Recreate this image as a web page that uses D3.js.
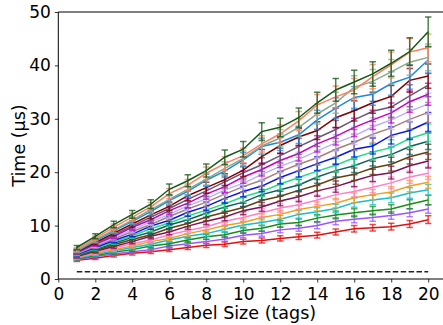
<!DOCTYPE html>
<html>
<head>
<meta charset="utf-8">
<script src="https://cdn.jsdelivr.net/npm/d3@7"></script>
<style>
  html, body { margin: 0; padding: 0; background: #fff; }
  svg { display: block; font-family: "DejaVu Sans", sans-serif; }
</style>
</head>
<body>
<div id="chart"></div>
<script>
// label sizes (x)
const labelSizes = [1, 2, 3, 4, 5, 6, 7, 8, 9, 10, 11, 12, 13, 14, 15, 16, 17, 18, 19, 20];
const xTicks = [0, 2, 4, 6, 8, 10, 12, 14, 16, 18, 20];
const yTicks = [0, 10, 20, 30, 40, 50];

// series colours, bottom to top
const colors = [
  '#e41010', '#9955ff', '#159015', '#17becf', '#f0a020',
  '#ff80c8', '#80105a', '#654010', '#0f6060', '#22dd88',
  '#0a14f0', '#a88078', '#b8b0ff', '#c800c8', '#6a5878',
  '#800000', '#1e88e5', '#88aa88', '#ff8060', '#145a14'
];

// time in microseconds, one array per series
const s01 = [3.5, 3.9, 4.4, 4.8, 5.1, 5.5, 5.9, 6.3, 6.5, 7.0, 7.2, 7.6, 7.9, 8.2, 8.8, 9.4, 9.6, 9.8, 10.3, 11.1];
const s02 = [3.6, 4.2, 4.7, 5.1, 5.5, 6.2, 6.6, 7.0, 7.5, 8.2, 8.5, 9.2, 9.5, 10.0, 10.8, 11.2, 11.5, 11.9, 12.4, 13.1];
const s03 = [3.8, 4.4, 5.0, 5.5, 6.2, 6.6, 7.3, 7.9, 8.3, 9.1, 9.5, 10.3, 10.6, 11.4, 12.0, 12.4, 12.8, 13.1, 14.0, 14.8];
const s04 = [3.9, 4.6, 5.3, 5.9, 6.5, 7.3, 8.0, 8.5, 9.3, 10.1, 10.6, 11.2, 12.1, 12.6, 13.2, 14.3, 14.8, 15.2, 16.1, 16.7];
const s05 = [4.0, 4.8, 5.5, 6.2, 7.0, 7.6, 8.5, 9.2, 10.0, 10.6, 11.5, 12.1, 13.0, 13.6, 14.2, 15.2, 15.8, 16.3, 17.4, 18.1];
const s06 = [4.1, 4.9, 5.8, 6.6, 7.3, 8.3, 9.1, 9.8, 10.8, 11.5, 12.4, 13.3, 13.9, 14.8, 15.8, 16.4, 17.2, 18.0, 19.1, 19.8];
const s07 = [4.2, 5.2, 6.1, 7.0, 8.0, 8.8, 9.9, 10.8, 11.6, 12.8, 13.5, 14.6, 15.4, 16.5, 17.3, 18.4, 19.4, 19.9, 21.2, 22.1];
const s08 = [4.3, 5.3, 6.4, 7.4, 8.3, 9.5, 10.4, 11.6, 12.5, 13.4, 14.7, 15.5, 16.6, 17.6, 18.9, 19.6, 20.8, 21.5, 22.9, 23.8];
const s09 = [4.4, 5.5, 6.7, 7.8, 8.8, 10.1, 11.1, 12.3, 13.5, 14.4, 15.8, 16.7, 17.6, 19.1, 20.3, 21.2, 22.5, 23.3, 24.8, 25.8];
const s10 = [4.5, 5.7, 6.9, 8.1, 9.4, 10.5, 11.8, 12.9, 14.1, 15.4, 16.4, 17.8, 19.0, 20.2, 21.3, 22.7, 23.8, 24.6, 26.3, 27.4];
const s11 = [4.6, 5.9, 7.2, 8.4, 9.9, 11.0, 12.5, 13.6, 15.1, 16.4, 17.4, 19.0, 20.3, 21.6, 22.8, 24.3, 24.9, 26.9, 27.8, 29.4];
const s12 = [4.7, 6.1, 7.5, 8.9, 10.2, 11.7, 13.1, 14.4, 15.9, 17.3, 18.5, 20.1, 21.5, 22.7, 24.3, 25.6, 27.1, 28.3, 29.9, 31.2];
const s13 = [4.8, 6.3, 7.8, 9.2, 10.7, 12.1, 13.7, 15.0, 16.7, 17.9, 19.6, 21.1, 22.4, 24.0, 25.5, 26.8, 28.5, 29.8, 31.4, 32.8];
const s14 = [4.9, 6.5, 8.0, 9.7, 11.1, 12.8, 14.2, 15.9, 17.3, 19.1, 20.5, 22.2, 23.5, 25.3, 26.7, 28.4, 29.8, 31.1, 33.2, 34.6];
const s15 = [5.0, 6.7, 8.3, 9.9, 11.6, 13.2, 14.9, 16.5, 18.2, 19.9, 21.4, 23.1, 24.8, 26.4, 28.0, 29.8, 31.4, 32.2, 34.3, 36.3];
const s16 = [5.1, 6.8, 8.6, 10.3, 12.0, 13.6, 15.6, 17.1, 18.6, 20.4, 22.9, 25.0, 26.6, 27.8, 30.2, 31.5, 33.0, 34.2, 37.2, 38.0];
const s17 = [5.2, 7.1, 9.0, 10.8, 12.6, 14.7, 16.4, 18.5, 20.2, 22.3, 24.8, 25.6, 27.0, 29.8, 32.0, 34.0, 34.6, 36.6, 37.8, 41.0];
const s18 = [5.3, 7.3, 9.2, 11.0, 13.0, 14.9, 16.8, 18.7, 20.7, 22.6, 24.9, 26.4, 28.4, 30.9, 33.0, 35.9, 37.0, 38.8, 40.6, 41.5];
const s19 = [5.5, 7.6, 9.7, 11.6, 13.5, 16.0, 17.6, 19.8, 21.6, 23.1, 25.3, 27.2, 29.6, 32.6, 34.1, 35.4, 37.9, 40.1, 42.5, 43.3];
const s20 = [5.9, 8.0, 10.2, 12.1, 14.0, 16.8, 18.4, 20.3, 22.8, 24.3, 27.6, 28.4, 30.2, 33.0, 35.4, 36.9, 38.4, 40.4, 42.6, 46.3];

// relative spread of the error bars, one per series
const errFrac = [0.065, 0.06, 0.06, 0.06, 0.06, 0.06, 0.06, 0.06, 0.06, 0.06,
                 0.06, 0.06, 0.06, 0.06, 0.06, 0.06, 0.06, 0.06, 0.06, 0.06];

// baseline (dashed)
const baseX = [1, 20];
const baseY = [1.37, 1.37];

const allSeries = [s01, s02, s03, s04, s05, s06, s07, s08, s09, s10,
                   s11, s12, s13, s14, s15, s16, s17, s18, s19, s20];

const W = 443, H = 325;
const margin = { top: 12, right: 0, bottom: 46, left: 58.3 };
const width = W - margin.left - margin.right;
const height = H - margin.top - margin.bottom;

const svg = d3.select('#chart').append('svg')
  .attr('width', W)
  .attr('height', H);

const g = svg.append('g')
  .attr('transform', 'translate(' + margin.left + ',' + margin.top + ')');

const x = d3.scaleLinear().domain([0, 20.8]).range([0, width]);
const y = d3.scaleLinear().domain([0, 50]).range([height, 0]);

g.append('defs').append('clipPath')
  .attr('id', 'clip')
  .append('rect')
  .attr('x', 0).attr('y', -1)
  .attr('width', width).attr('height', height + 1);

const plot = g.append('g').attr('clip-path', 'url(#clip)');

// dashed baseline
plot.append('path')
  .datum(baseX.map((d, i) => [d, baseY[i]]))
  .attr('fill', 'none')
  .attr('stroke', '#222')
  .attr('stroke-width', 1.5)
  .attr('stroke-dasharray', '5.5,2.4')
  .attr('d', d3.line().x(d => x(d[0])).y(d => y(d[1])));

const line = d3.line()
  .x(d => x(d[0]))
  .y(d => y(d[1]));

const capW = 3.2;

allSeries.forEach((vals, si) => {
  const c = colors[si];
  const pts = vals.map((v, i) => [labelSizes[i], v]);
  const grp = plot.append('g');

  grp.append('path')
    .datum(pts)
    .attr('fill', 'none')
    .attr('stroke', c)
    .attr('stroke-width', 1.5)
    .attr('d', line);

  const eb = grp.append('g')
    .attr('stroke', c)
    .attr('stroke-width', 1.5)
    .attr('stroke-opacity', 0.75);

  pts.forEach(p => {
    const e = p[1] * errFrac[si];
    const px = x(p[0]);
    const y0 = y(p[1] - e), y1 = y(p[1] + e);
    eb.append('line').attr('x1', px).attr('x2', px).attr('y1', y0).attr('y2', y1);
    eb.append('line').attr('x1', px - capW).attr('x2', px + capW).attr('y1', y0).attr('y2', y0);
    eb.append('line').attr('x1', px - capW).attr('x2', px + capW).attr('y1', y1).attr('y2', y1);
  });
});

// axes
const xAxis = g.append('g')
  .attr('transform', 'translate(0,' + height + ')')
  .call(d3.axisBottom(x).tickValues(xTicks).tickSize(3.5).tickPadding(5).tickFormat(d3.format('d')));

const yAxis = g.append('g')
  .call(d3.axisLeft(y).tickValues(yTicks).tickSize(3.5).tickPadding(4).tickFormat(d3.format('d')));

[xAxis, yAxis].forEach(a => {
  a.select('.domain').remove();
  a.selectAll('.tick line').attr('stroke', '#000').attr('stroke-width', 0.8);
  a.selectAll('.tick text')
    .attr('fill', '#000')
    .style('font-size', '17px')
    .style('font-family', '"DejaVu Sans", sans-serif');
});

// spines: left, bottom, top
g.append('line').attr('x1', 0).attr('x2', 0).attr('y1', 0).attr('y2', height)
  .attr('stroke', '#000').attr('stroke-width', 1);
g.append('line').attr('x1', 0).attr('x2', width).attr('y1', height).attr('y2', height)
  .attr('stroke', '#000').attr('stroke-width', 1);
g.append('line').attr('x1', 0).attr('x2', width).attr('y1', 0).attr('y2', 0)
  .attr('stroke', '#000').attr('stroke-width', 1);

// axis labels
svg.append('text')
  .attr('x', margin.left + x(10))
  .attr('y', 319)
  .attr('text-anchor', 'middle')
  .style('font-size', '17.5px')
  .text('Label Size (tags)');

svg.append('text')
  .attr('transform', 'translate(25,' + (margin.top + height / 2) + ') rotate(-90)')
  .attr('text-anchor', 'middle')
  .style('font-size', '17.5px')
  .text('Time (µs)');
</script>
</body>
</html>
